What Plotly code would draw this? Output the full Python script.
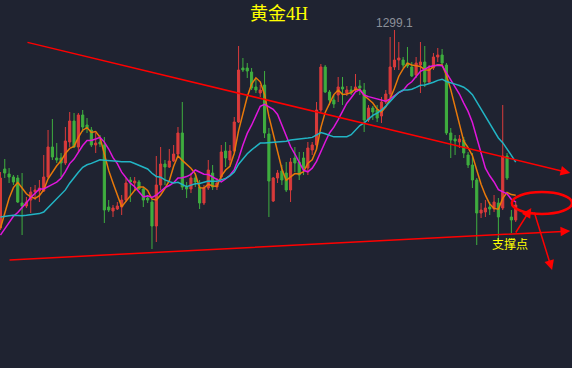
import plotly.graph_objects as go
import pandas as pd

# ---- data (price) ----
opens = [1279.3,1285.2,1284.7,1284.4,1284.3,1281.8,1281.5,1282.1,1282.9,1283.0,
         1283.0,1284.4,1287.4,1286.3,1286.3,1285.8,1287.9,1290.0,1287.4,1290.6,
         1289.6,1289.1,1287.6,1287.9,1287.6,1281.4,1281.0,1281.2,1281.4,1282.1,
         1284.1,1283.8,1283.9,1283.2,1282.3,1281.9,1279.5,1283.6,1285.7,1285.4,
         1286.0,1286.7,1288.8,1283.4,1283.2,1284.3,1283.4,1281.8,1283.3,1284.8,
         1283.4,1284.4,1287.0,1286.1,1287.0,1289.9,1295.3,1295.3,1294.9,1293.4,
         1292.8,1293.6,1288.7,1282.0,1284.3,1285.0,1284.8,1283.1,1286.3,1285.9,
         1286.3,1285.3,1287.1,1287.6,1291.1,1295.4,1292.9,1292.1,1292.6,1293.4,
         1292.8,1293.1,1293.1,1293.5,1293.1,1290.1,1291.3,1291.1,1290.5,1291.9,
         1292.7,1295.4,1296.1,1296.1,1295.8,1295.4,1294.6,1295.6,1295.9,1293.9,
         1295.3,1296.4,1296.6,1295.6,1288.8,1288.2,1287.9,1288.1,1286.6,1285.6,
         1284.1,1280.8,1280.9,1281.4,1281.2,1281.8,1281.3,1286.5,1280.4,1280.1]
highs = [1284.9,1286.2,1285.3,1284.6,1284.6,1284.8,1282.4,1283.4,1283.6,1284.1,
         1286.6,1289.1,1290.2,1287.8,1286.8,1289.4,1290.9,1290.8,1290.8,1291.1,
         1290.3,1289.4,1288.8,1288.6,1288.4,1282.1,1281.6,1281.9,1282.6,1284.3,
         1284.4,1284.4,1284.1,1283.4,1282.6,1282.1,1286.5,1287.4,1286.1,1287.2,
         1287.6,1289.4,1291.9,1283.9,1284.8,1284.8,1284.1,1283.6,1286.1,1285.6,
         1284.3,1287.6,1287.9,1287.6,1290.4,1297.5,1296.3,1295.8,1295.3,1294.3,
         1293.6,1295.0,1289.3,1284.4,1285.1,1285.6,1285.9,1286.3,1287.4,1286.9,
         1286.9,1287.9,1287.9,1291.9,1295.7,1295.6,1293.1,1292.6,1294.4,1294.4,
         1293.5,1293.5,1294.7,1294.1,1293.8,1291.6,1291.5,1291.6,1292.4,1293.1,
         1298.4,1299.1,1297.9,1296.4,1297.4,1295.9,1296.4,1297.9,1297.5,1295.6,
         1296.8,1297.3,1297.2,1295.8,1289.3,1288.6,1288.6,1288.4,1286.9,1286.8,
         1284.3,1281.8,1282.1,1281.9,1282.6,1282.3,1291.6,1286.8,1281.1,1282.0]
lows = [1279.1,1284.3,1283.8,1283.6,1281.8,1278.6,1281.3,1280.8,1282.1,1281.9,
        1282.9,1284.3,1286.1,1285.8,1284.4,1285.6,1287.4,1287.3,1286.8,1288.9,
        1288.8,1287.4,1286.8,1287.4,1279.8,1280.9,1280.4,1281.1,1280.6,1281.9,
        1281.9,1283.1,1283.1,1281.4,1281.8,1277.2,1277.9,1283.1,1283.6,1285.3,
        1285.9,1286.6,1283.1,1282.3,1282.8,1283.4,1281.2,1281.6,1283.1,1283.1,
        1283.1,1284.1,1285.4,1285.6,1286.9,1289.8,1294.9,1294.3,1293.1,1292.8,
        1292.4,1288.3,1280.4,1281.9,1283.8,1283.6,1282.9,1281.9,1284.9,1284.1,
        1284.6,1284.6,1286.6,1287.1,1290.9,1292.8,1291.6,1291.3,1291.9,1291.6,
        1292.5,1292.6,1292.9,1292.6,1288.9,1289.9,1290.1,1289.9,1289.8,1291.7,
        1292.3,1295.1,1295.1,1295.3,1295.3,1294.4,1294.3,1292.8,1293.4,1293.7,
        1295.1,1295.9,1295.6,1288.6,1286.3,1286.6,1287.3,1286.3,1285.3,1283.3,
        1277.6,1280.3,1280.4,1280.6,1280.9,1277.8,1281.1,1284.1,1278.8,1279.9]
closes = [1284.3,1284.8,1284.4,1283.9,1281.9,1281.5,1281.9,1282.9,1283.1,1283.3,
          1284.4,1287.4,1286.4,1286.1,1285.8,1288.0,1290.0,1287.4,1290.6,1289.4,
          1289.3,1287.6,1287.8,1287.7,1281.1,1281.1,1281.3,1281.5,1282.1,1283.8,
          1283.9,1284.0,1283.2,1282.1,1282.1,1279.5,1283.6,1285.7,1285.4,1286.0,
          1286.7,1288.8,1283.4,1283.2,1284.3,1283.9,1281.8,1283.3,1285.1,1283.4,
          1283.8,1286.9,1286.3,1287.0,1289.9,1295.1,1295.1,1295.0,1293.3,1293.1,
          1293.1,1288.8,1284.0,1284.3,1284.8,1284.1,1283.1,1285.9,1285.8,1284.6,
          1285.3,1287.3,1287.6,1291.1,1295.4,1292.9,1292.1,1291.7,1293.4,1293.2,
          1293.1,1292.8,1293.4,1293.3,1290.1,1291.3,1290.9,1290.3,1291.9,1292.7,
          1295.4,1296.1,1296.3,1295.6,1295.5,1294.5,1295.8,1295.9,1293.9,1295.3,
          1296.4,1296.6,1295.8,1288.8,1288.1,1288.0,1288.2,1286.8,1285.6,1284.1,
          1280.8,1281.1,1281.3,1281.2,1281.9,1280.4,1286.5,1284.3,1280.1,1281.6]
# closes of the 19 bars before the visible window (for the moving averages)
prior_closes = [1283.1,1283.6,1283.1,1282.6,1281.6,1281.1,1281.6,1282.1,1282.1,1281.2,
                1278.6,1278.1,1277.6,1278.1,1277.1,1276.6,1277.6,1278.6,1279.3]
ma_periods = [5, 10, 20]
ma_colors = ["#e8790a", "#e016dc", "#22b4c4"]

# annotations (bar index, price)
trend_upper = [(5.9, 1297.9), (131.6, 1284.8)]
trend_lower = [(1.75, 1276.1), (131.6, 1279.0)]
arrow_up = [(118.8, 1278.7), (122.6, 1281.3)]
arrow_down = [(123.2, 1281.0), (127.4, 1275.1)]
ellipse = [(118.1, 1282.9), (132.0, 1280.7)]
title_text = "黄金4H"
peak_label = "1299.1"
peak_index = 91
support_text = "支撑点"
support_pos = (117.6, 1277.8)

n = len(closes)
xs = list(range(n))
BG = "#1f2331"
RED = "#d93b3b"
GREEN = "#3fae3f"

fig = go.Figure()
fig.add_trace(go.Candlestick(
    x=xs, open=opens, high=highs, low=lows, close=closes,
    increasing=dict(line=dict(color=RED, width=1), fillcolor=RED),
    decreasing=dict(line=dict(color=GREEN, width=1), fillcolor=GREEN),
    whiskerwidth=0, hoverinfo="skip", showlegend=False))

full = pd.Series(prior_closes + closes)
for p, col in zip(ma_periods, ma_colors):
    ma = full.rolling(p).mean().iloc[len(prior_closes):].tolist()
    fig.add_trace(go.Scatter(x=xs, y=ma, mode="lines",
                             line=dict(color=col, width=1.5),
                             hoverinfo="skip", showlegend=False))

def arrow(seg, head=True, width=1.5):
    (x0, y0), (x1, y1) = seg
    fig.add_annotation(x=x1, y=y1, ax=x0, ay=y0, xref="x", yref="y",
                       axref="x", ayref="y", text="", showarrow=True,
                       arrowhead=2 if head else 0, arrowsize=1.3,
                       arrowwidth=width, arrowcolor="#ff0000", standoff=0)

arrow(trend_upper)
arrow(trend_lower)
arrow(arrow_up)
arrow(arrow_down)

fig.add_shape(type="circle", xref="x", yref="y",
              x0=ellipse[0][0], y0=ellipse[0][1], x1=ellipse[1][0], y1=ellipse[1][1],
              line=dict(color="#ff0000", width=2.5))

fig.add_annotation(x=0.488, y=0.962, xref="paper", yref="paper", text=title_text,
                   showarrow=False, xanchor="center", yanchor="middle",
                   font=dict(family="Liberation Serif, Noto Sans CJK SC", size=18, color="#ffff00"))
fig.add_annotation(x=peak_index, y=highs[peak_index], xref="x", yref="y", text=peak_label,
                   showarrow=False, xanchor="center", yanchor="bottom", yshift=-2,
                   font=dict(family="Liberation Sans", size=12, color="#8c9099"))
fig.add_annotation(x=support_pos[0], y=support_pos[1], xref="x", yref="y", text=support_text,
                   showarrow=False, xanchor="center", yanchor="middle",
                   font=dict(family="Noto Sans CJK SC", size=12, color="#ffff00"))

fig.update_layout(
    width=572, height=368, margin=dict(l=0, r=0, t=0, b=0),
    paper_bgcolor=BG, plot_bgcolor=BG, showlegend=False,
    xaxis=dict(range=[-0.1, 132.0], visible=False, rangeslider=dict(visible=False),
               fixedrange=True),
    yaxis=dict(range=[1265.3, 1302.1], visible=False, fixedrange=True),
)
fig.write_html("out.html", config={"displayModeBar": False})
